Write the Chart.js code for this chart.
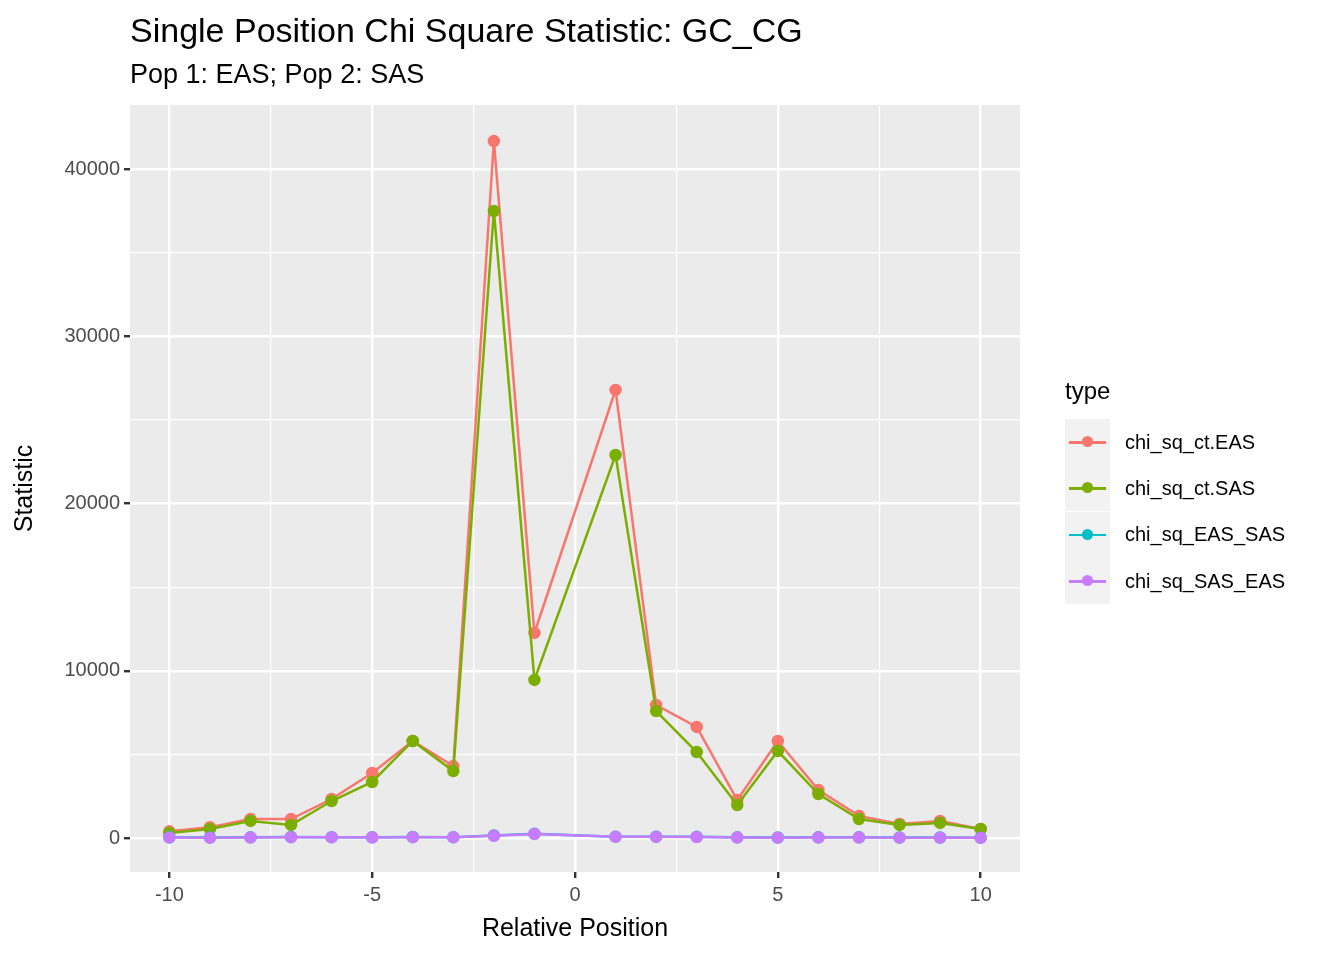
<!DOCTYPE html>
<html><head><meta charset="utf-8">
<script src="https://cdn.jsdelivr.net/npm/chart.js@4"></script>
<style>
body{margin:0;background:#fff;font-family:"Liberation Sans",Arial,sans-serif;}
#wrap{position:relative;width:1344px;height:960px;}
#t1{position:absolute;left:130px;top:11px;font-size:34px;color:#000;}
#t2{position:absolute;left:130px;top:59px;font-size:27px;color:#000;}
#leg{position:absolute;left:1065px;top:377px;}
#leg .h{font-size:24px;margin-bottom:14px;}
.row{display:flex;align-items:center;height:46.3px;}
.key{width:45px;height:46px;background:#F2F2F2;position:relative;}
.key .ln{position:absolute;left:4px;right:4px;top:22px;height:2.5px;}
.key .pt{position:absolute;left:17px;top:17px;width:11px;height:11px;border-radius:50%;}
.row span{margin-left:15px;font-size:20px;}
</style></head><body>
<div id="wrap">
<canvas id="c" width="1344" height="960"></canvas>
<div id="t1">Single Position Chi Square Statistic: GC_CG</div>
<div id="t2">Pop 1: EAS; Pop 2: SAS</div>
<div id="leg"></div>
</div>
<script>
const positions=[-10,-9,-8,-7,-6,-5,-4,-3,-2,-1,1,2,3,4,5,6,7,8,9,10];
const chiEAS=[400,650,1130,1130,2330,3890,5800,4300,41670,12260,26790,7950,6640,2270,5800,2870,1320,840,1020,540];
const chiSAS=[300,540,1020,780,2210,3350,5800,4000,37490,9450,22900,7590,5140,1970,5200,2630,1130,780,900,540];
const eassas=[40,30,40,60,50,40,60,50,150,260,80,80,70,40,30,40,40,30,30,20];
const saseas=[30,20,30,50,40,30,50,40,130,240,70,70,60,30,20,30,30,20,20,10];
const names=['chi_sq_ct.EAS','chi_sq_ct.SAS','chi_sq_EAS_SAS','chi_sq_SAS_EAS'];
const colors=['#F8766D','#7CAE00','#00BFC4','#C77CFF'];
const series=[chiEAS,chiSAS,eassas,saseas];
const xTicks=[-10,-7.5,-5,-2.5,0,2.5,5,7.5,10];
const yTicks=[0,5000,10000,15000,20000,25000,30000,35000,40000];
const leg=document.getElementById('leg');
leg.innerHTML='<div class="h">type</div>'+names.map((n,i)=>`<div class="row"><div class="key"><div class="ln" style="background:${colors[i]}"></div><div class="pt" style="background:${colors[i]}"></div></div><span>${n}</span></div>`).join('');
const bg={id:'bg',beforeDraw(ch){const a=ch.chartArea,c=ch.ctx;c.save();c.fillStyle='#EBEBEB';c.fillRect(a.left,a.top,a.right-a.left,a.bottom-a.top);c.restore();}};
const major=(v,step)=>Math.abs(v%step)<1e-9;
new Chart(document.getElementById('c'),{
type:'line',
data:{datasets:series.map((s,i)=>({label:names[i],order:3-i,data:positions.map((x,j)=>({x:x,y:s[j]})),borderColor:colors[i],backgroundColor:colors[i],borderWidth:2.5,pointRadius:5,pointHoverRadius:5,tension:0}))},
options:{responsive:false,animation:false,
layout:{padding:{left:10,top:105,right:324,bottom:16}},
plugins:{legend:{display:false},tooltip:{enabled:false}},
scales:{
x:{type:'linear',min:-10.97,max:10.97,
afterBuildTicks:a=>{a.ticks=xTicks.map(v=>({value:v}));},
afterFit:s=>{s.height=72;},
border:{display:false},
grid:{color:'#fff',lineWidth:c=>major(c.tick.value,5)?2.4:1.2,tickColor:c=>major(c.tick.value,5)?'#333':'rgba(0,0,0,0)',tickLength:6,drawTicks:true},
ticks:{autoSkip:false,maxRotation:0,color:'#4D4D4D',font:{size:20,family:'Liberation Sans'},padding:5,callback:v=>major(v,5)?String(v):''},
title:{display:true,text:'Relative Position',color:'#000',font:{size:25,family:'Liberation Sans'},padding:{top:0,bottom:0}}},
y:{min:-2033,max:43826,
afterBuildTicks:a=>{a.ticks=yTicks.map(v=>({value:v}));},
afterFit:s=>{s.width=120;},
border:{display:false},
grid:{color:'#fff',lineWidth:c=>major(c.tick.value,10000)?2.4:1.2,tickColor:c=>major(c.tick.value,10000)?'#333':'rgba(0,0,0,0)',tickLength:6},
ticks:{autoSkip:false,color:'#4D4D4D',font:{size:20,family:'Liberation Sans'},padding:4,callback:v=>major(v,10000)?String(v):''},
title:{display:true,text:'Statistic',color:'#000',font:{size:25,family:'Liberation Sans'},padding:{top:0,bottom:0}}}
}},
plugins:[bg]});
</script></body></html>
